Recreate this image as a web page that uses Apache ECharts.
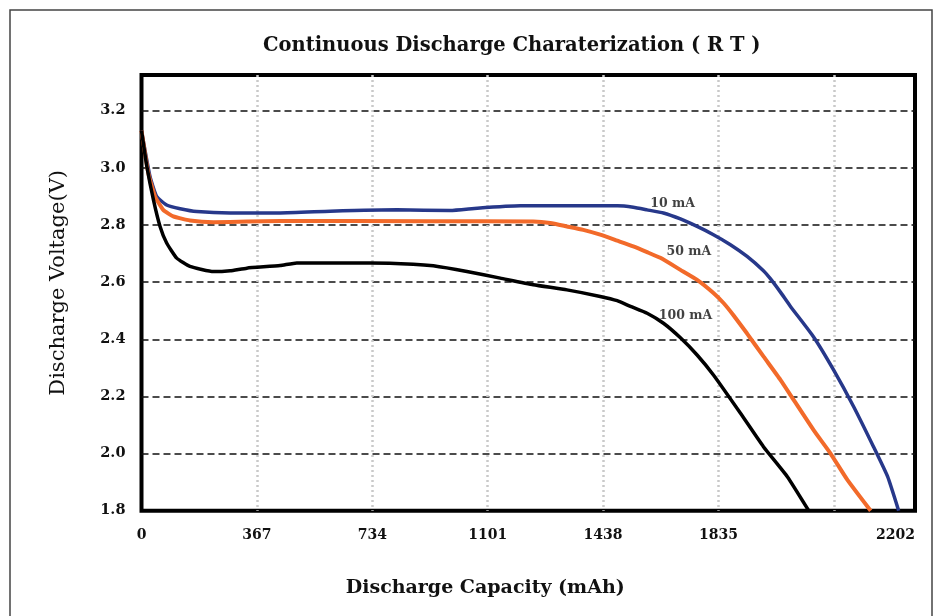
<!DOCTYPE html>
<html>
<head>
<meta charset="utf-8">
<script src="https://cdn.jsdelivr.net/npm/echarts@6/dist/echarts.min.js"></script>
<style>html,body{margin:0;padding:0;background:#fff}#c{width:937px;height:616px}</style>
</head>
<body>
<div id="c"></div>
<script>
// ---- data ----
var chartTitle = 'Continuous Discharge Charaterization ( R T )';
var xTitle = 'Discharge Capacity (mAh)';
var yTitle = 'Discharge Voltage(V)';

var xTickLabels = ['0', '367', '734', '1101', '1438', '1835', '', '2202'];
var yTickValues = [1.8, 2.0, 2.2, 2.4, 2.6, 2.8, 3.0, 3.2];

var cap10  = [0, 27, 48, 80, 123, 176, 282, 441, 600, 812, 982, 1068, 1205, 1514, 1564, 1608, 1660, 1714, 1767, 1819, 1873, 1926, 1978, 2000, 2032, 2064, 2137, 2201, 2265, 2328, 2373, 2408];
var volt10 = [3.13, 2.97, 2.90, 2.87, 2.857, 2.847, 2.842, 2.842, 2.848, 2.853, 2.851, 2.859, 2.867, 2.867, 2.862, 2.853, 2.842, 2.821, 2.795, 2.766, 2.731, 2.690, 2.640, 2.612, 2.565, 2.515, 2.409, 2.293, 2.164, 2.024, 1.919, 1.80];

var cap50  = [0, 22, 43, 69, 101, 154, 229, 335, 441, 918, 1246, 1300, 1353, 1405, 1459, 1513, 1564, 1608, 1650, 1714, 1767, 1819, 1851, 1882, 1926, 1978, 2032, 2074, 2137, 2191, 2245, 2319];
var volt50 = [3.13, 2.98, 2.90, 2.853, 2.830, 2.816, 2.810, 2.812, 2.814, 2.813, 2.812, 2.807, 2.795, 2.783, 2.766, 2.745, 2.725, 2.705, 2.685, 2.643, 2.608, 2.562, 2.527, 2.485, 2.420, 2.340, 2.258, 2.188, 2.083, 2.001, 1.908, 1.80];

var cap100  = [0, 17, 38, 59, 80, 112, 154, 229, 282, 335, 441, 494, 727, 864, 928, 1035, 1141, 1246, 1353, 1459, 1513, 1555, 1608, 1660, 1714, 1767, 1819, 1905, 1978, 2054, 2122];
var volt100 = [3.13, 3.005, 2.888, 2.795, 2.737, 2.684, 2.655, 2.637, 2.640, 2.649, 2.658, 2.667, 2.667, 2.663, 2.657, 2.637, 2.614, 2.591, 2.573, 2.550, 2.535, 2.515, 2.491, 2.456, 2.405, 2.345, 2.275, 2.141, 2.024, 1.919, 1.80];

var seriesNames = ['10 mA', '50 mA', '100 mA'];
var labelCap  = [1689, 1741, 1730];
var labelVolt = [2.876, 2.706, 2.482];

// ---- chart ----
function pairs(xs, ys) { return xs.map(function (x, i) { return [x, ys[i]]; }); }

var SERIF = '"DejaVu Serif", "Liberation Serif", serif';
var xMin = 0, xMax = 2460, xStep = 367;
var yMin = 1.8, yMax = 3.325, yStep = 0.2;

var chart = echarts.init(document.getElementById('c'), null, { renderer: 'canvas' });
chart.setOption({
  backgroundColor: '#ffffff',
  animation: false,
  title: {
    text: chartTitle,
    left: 258, top: 31,
    textStyle: { fontFamily: SERIF, fontSize: 19.5, fontWeight: 'bold', color: '#111' }
  },
  graphic: [{
    type: 'rect', shape: { x: 10, y: 10, width: 922, height: 640 },
    style: { fill: 'none', stroke: '#444', lineWidth: 1.5 }, silent: true, z: -1
  }],
  grid: {
    left: 141.5, right: 22, top: 75, bottom: 105.3,
    show: true, borderColor: '#000', borderWidth: 4, backgroundColor: 'transparent'
  },
  xAxis: {
    type: 'value', min: xMin, max: xMax, interval: xStep,
    name: xTitle, nameLocation: 'middle', nameGap: 68,
    nameTextStyle: { fontFamily: SERIF, fontSize: 19, fontWeight: 'bold', color: '#111', padding: [0, 86, 0, 0] },
    axisLine: { show: false }, axisTick: { show: false },
    axisLabel: {
      margin: 18, fontFamily: SERIF, fontSize: 14, fontWeight: 'bold', color: '#111',
      showMaxLabel: true, alignMaxLabel: 'right',
      formatter: function (v) {
        if (v >= xMax) return xTickLabels[xTickLabels.length - 1];
        var i = Math.round(v / xStep);
        return xTickLabels[i] !== undefined ? xTickLabels[i] : '';
      }
    },
    splitLine: { show: true, showMinLine: false, showMaxLine: false,
      lineStyle: { color: '#c9c9c9', width: 2.5, type: [2, 3] } }
  },
  yAxis: {
    type: 'value', min: yMin, max: yMax, interval: yStep,
    name: yTitle, nameLocation: 'middle', nameGap: 72, nameRotate: 90,
    nameTextStyle: { fontFamily: SERIF, fontSize: 21, color: '#111', padding: [0, 0, 0, 20] },
    axisLine: { show: false }, axisTick: { show: false },
    axisLabel: {
      margin: 16, fontFamily: SERIF, fontSize: 14.5, fontWeight: 'bold', color: '#111',
      formatter: function (v) {
        for (var i = 0; i < yTickValues.length; i++) {
          if (Math.abs(yTickValues[i] - v) < 1e-6) return yTickValues[i].toFixed(1);
        }
        return '';
      }
    },
    splitLine: { show: true, showMinLine: false, showMaxLine: false,
      lineStyle: { color: '#111', width: 1.5, type: [7, 4] } }
  },
  series: [
    { name: seriesNames[0], type: 'line', data: pairs(cap10, volt10), showSymbol: false, smooth: 0.15,
      lineStyle: { color: '#27388a', width: 3.5 }, itemStyle: { color: '#27388a' }, z: 3 },
    { name: seriesNames[1], type: 'line', data: pairs(cap50, volt50), showSymbol: false, smooth: 0.15,
      lineStyle: { color: '#f26a2a', width: 4 }, itemStyle: { color: '#f26a2a' }, z: 4 },
    { name: seriesNames[2], type: 'line', data: pairs(cap100, volt100), showSymbol: false, smooth: 0.15,
      lineStyle: { color: '#000000', width: 3.5 }, itemStyle: { color: '#000' }, z: 5 },
    { name: 'labels', type: 'scatter', symbolSize: 1, silent: true, z: 6,
      itemStyle: { color: 'rgba(0,0,0,0)' },
      data: seriesNames.map(function (n, i) { return { name: n, value: [labelCap[i], labelVolt[i]] }; }),
      label: { show: true, position: 'inside', formatter: '{b}', fontFamily: SERIF, fontSize: 12.5, fontWeight: 'bold', color: '#111' } }
  ]
});
</script>
</body>
</html>
